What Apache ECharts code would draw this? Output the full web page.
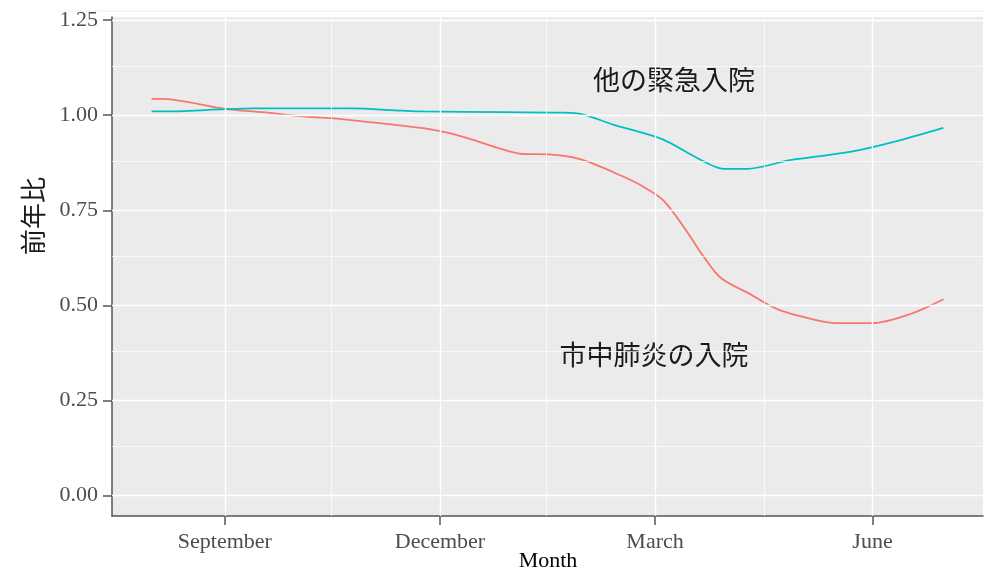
<!DOCTYPE html>
<html>
<head>
<meta charset="utf-8">
<script src="https://cdn.jsdelivr.net/npm/echarts@6/dist/echarts.min.js"></script>
<style>
html,body{margin:0;padding:0;background:#fff;}
#c{width:984px;height:570px;}
</style>
</head>
<body>
<div id="c"></div>
<script>
// ---- data ----
const pneumoniaDates = ['2019-08-01','2019-08-05','2019-09-01','2019-09-17','2019-10-06','2019-10-17','2019-10-29','2019-11-13','2019-11-27','2019-12-05','2019-12-15','2019-12-25','2020-01-05','2020-01-16','2020-01-30','2020-02-16','2020-02-25','2020-03-05','2020-03-15','2020-03-22','2020-03-29','2020-04-10','2020-04-21','2020-05-01','2020-05-16','2020-06-01','2020-06-17','2020-07-01'];
const pneumoniaValues = [1.043,1.043,1.017,1.008,0.996,0.992,0.984,0.974,0.963,0.953,0.935,0.915,0.898,0.897,0.883,0.840,0.812,0.773,0.689,0.624,0.571,0.530,0.492,0.472,0.453,0.453,0.477,0.516];

const otherDates = ['2019-08-01','2019-08-09','2019-09-01','2019-09-13','2019-10-24','2019-11-15','2019-11-24','2019-12-28','2020-01-22','2020-01-30','2020-02-13','2020-03-04','2020-03-19','2020-03-30','2020-04-09','2020-04-27','2020-05-08','2020-05-23','2020-06-10','2020-07-01'];
const otherValues = [1.010,1.010,1.016,1.018,1.018,1.012,1.010,1.008,1.007,1.003,0.974,0.937,0.887,0.859,0.859,0.882,0.891,0.904,0.930,0.967];

const xTickDates = ['2019-09-01','2019-12-01','2020-03-01','2020-06-01'];
const xTickLabels = ['September','December','March','June'];
const xMinorDates = ['2019-10-16','2020-01-15','2020-04-16'];
const yTicks = [0,0.25,0.5,0.75,1.0,1.25];
const yMinor = [0.125,0.375,0.625,0.875,1.125];

const xRange = ['2019-07-15T06:00','2020-07-17T18:00'];
const yRange = [-0.0545, 1.2585];

const labelOther = '他の緊急入院';
const labelPneumonia = '市中肺炎の入院';
const yTitle = '前年比';
const xTitle = 'Month';

// ---- helpers ----
function ts(s){
  const m = s.match(/^(\d+)-(\d+)-(\d+)(?:T(\d+):(\d+))?/);
  return Date.UTC(+m[1], +m[2]-1, +m[3], m[4]?+m[4]:0, m[5]?+m[5]:0);
}
const pair = (ds, vs) => ds.map((d,i)=>[ts(d), vs[i]]);
const xTickTs = xTickDates.map(ts);

// ---- chart ----
const chart = echarts.init(document.getElementById('c'), null, {renderer:'canvas'});

const gridLines = [];
xTickDates.forEach(d => gridLines.push({xAxis:ts(d), lineStyle:{width:1.4}}));
xMinorDates.forEach(d => gridLines.push({xAxis:ts(d), lineStyle:{width:0.7}}));
yTicks.forEach(v => gridLines.push({yAxis:v, lineStyle:{width:1.4}}));
yMinor.forEach(v => gridLines.push({yAxis:v, lineStyle:{width:0.7}}));

const serif = 'Liberation Serif';

chart.setOption({
  animation:false,
  backgroundColor:'#ffffff',
  grid:{left:112, right:1, top:17, bottom:54, show:true, backgroundColor:'#EBEBEB', borderWidth:0,
        containLabel:false, outerBoundsMode:'none'},
  xAxis:{
    type:'value', min:ts(xRange[0]), max:ts(xRange[1]), scale:true,
    axisLine:{show:true, onZero:false, lineStyle:{color:'#555555', width:1.5}},
    axisTick:{show:true, length:9, customValues:xTickTs, lineStyle:{color:'#555555', width:1.5}},
    axisLabel:{customValues:xTickTs, margin:15, fontFamily:serif, fontSize:22, color:'#4D4D4D',
      formatter:function(v){
        const i = xTickTs.indexOf(v);
        return i >= 0 ? xTickLabels[i] : '';
      }},
    splitLine:{show:false}
  },
  yAxis:{
    type:'value', min:yRange[0], max:yRange[1],
    axisLine:{show:true, onZero:false, lineStyle:{color:'#555555', width:1.5}},
    axisTick:{show:true, length:9, customValues:yTicks, lineStyle:{color:'#555555', width:1.5}},
    axisLabel:{customValues:yTicks, margin:14, fontFamily:serif, fontSize:22, color:'#4D4D4D',
      formatter:function(v){ return (Math.round(v*100)/100).toFixed(2); }},
    splitLine:{show:false}
  },
  series:[
    {type:'line', data:[], z:1, silent:true,
     markLine:{silent:true, symbol:['none','none'], label:{show:false}, animation:false,
       lineStyle:{color:'#FFFFFF', type:'solid'}, data:gridLines}},
    {type:'line', name:labelPneumonia, data:pair(pneumoniaDates, pneumoniaValues), z:3,
     showSymbol:false, smooth:0.3,
     lineStyle:{color:'#F8766D', width:1.8}, itemStyle:{color:'#F8766D'}},
    {type:'line', name:labelOther, data:pair(otherDates, otherValues), z:3,
     showSymbol:false, smooth:0.3,
     lineStyle:{color:'#00BFC4', width:1.8}, itemStyle:{color:'#00BFC4'}}
  ],
  graphic:[
    {type:'line', shape:{x1:58, y1:11, x2:984, y2:11}, style:{stroke:'#EDEDED', lineWidth:1}, silent:true},
    {type:'text', x:674, y:80, style:{text:labelOther, font:'27px "Noto Sans CJK JP"', fill:'#1A1A1A', textAlign:'center', textVerticalAlign:'middle'}},
    {type:'text', x:654, y:355, style:{text:labelPneumonia, font:'27px "Noto Sans CJK JP"', fill:'#1A1A1A', textAlign:'center', textVerticalAlign:'middle'}},
    {type:'text', x:33, y:216, rotation:Math.PI/2, style:{text:yTitle, font:'26px "Noto Sans CJK JP"', fill:'#1A1A1A', textAlign:'center', textVerticalAlign:'middle'}},
    {type:'text', x:548, y:561, style:{text:xTitle, font:'22px "Liberation Serif"', fill:'#000000', textAlign:'center', textVerticalAlign:'middle'}}
  ]
});
</script>
</body>
</html>
